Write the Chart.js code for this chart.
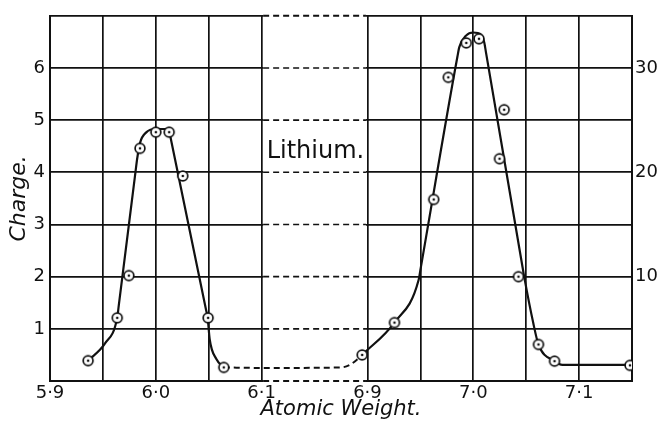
<!DOCTYPE html>
<html>
<head>
<meta charset="utf-8">
<script src="https://cdn.jsdelivr.net/npm/chart.js@4"></script>
<style>
  html, body { margin: 0; padding: 0; background: #fff; }
  #wrap { width: 662px; height: 424px; }
</style>
</head>
<body>
<div id="wrap"><canvas id="chart"></canvas></div>
<script>
"use strict";

// The axis is broken between 6.1 and 6.9; that stretch is squeezed into one 0.1 step
const BREAK_LO = 6.1;
const BREAK_HI = 6.9;
const BREAK_SHIFT = 0.7;

const xTickLabels = [5.9, 6.0, 6.1, 6.9, 7.0, 7.1];
const leftTickLabels = [1, 2, 3, 4, 5, 6];
const rightTickLabels = [10, 20, 30];
const breakLabel = 'Lithium.';

// Li6 peak, read against the left scale
const li6Weight = [5.936, 5.9635, 5.9745, 5.985, 6.0, 6.0126, 6.0255, 6.0494, 6.0642];
const li6Charge = [0.39, 1.21, 2.02, 4.46, 4.77, 4.77, 3.93, 1.21, 0.26];

// Li7 peak, read against the right scale
const li7Weight = [6.895, 6.9255, 6.9626, 6.9764, 6.9934, 7.0054, 7.0248, 7.0292, 7.0427, 7.0616, 7.0768, 7.1481];
const li7Charge = [2.5, 5.6, 17.4, 29.1, 32.4, 32.8, 21.3, 26.0, 10.0, 3.5, 1.9, 1.5];

// hand drawn curves through the observations (straight flanks, rounded tops)
const li6CurveWeight = [5.936, 5.952, 5.9635, 5.965, 5.981, 5.9823, 5.985, 5.9912, 6.0, 6.0085, 6.0132, 6.0145, 6.0475, 6.049, 6.0509, 6.0572, 6.0642];
const li6CurveCharge = [0.39, 0.72, 1.21, 1.45, 4.04, 4.25, 4.56, 4.77, 4.83, 4.83, 4.74, 4.61, 1.36, 1.21, 0.80, 0.42, 0.26];

const gapCurveWeight = [6.0642, 6.1, 6.875, 6.885, 6.895];
const gapCurveCharge = [0.26, 0.25, 0.26, 0.33, 0.50];

const li7CurveWeight = [6.895, 6.9255, 6.9484, 6.950, 6.985, 6.9868, 6.9931, 7.0, 7.0073, 7.0104, 7.012, 7.0465, 7.0481, 7.0566, 7.0616, 7.0768, 7.0843, 7.1481];
const li7CurveCharge = [2.5, 5.6, 9.7, 10.63, 31.07, 32.0, 33.1, 33.4, 33.2, 32.45, 31.5, 10.95, 10.0, 5.6, 3.5, 1.9, 1.55, 1.55];

const INK = '#111111';

// weight -> position on the squeezed axis and back
const BREAK_MID = (BREAK_LO + BREAK_HI) / 2;
const toAxis = w => (w > BREAK_MID ? w - BREAK_SHIFT : w);
const fromAxis = v => (v > BREAK_LO + 0.05 ? v + BREAK_SHIFT : v);
const pts = (ws, ys) => ws.map((w, i) => ({ x: toAxis(w), y: ys[i] }));

function ringDot() {
  const c = document.createElement('canvas');
  c.width = 14; c.height = 14;
  const g = c.getContext('2d');
  g.beginPath(); g.arc(7, 7, 4.9, 0, Math.PI * 2);
  g.fillStyle = '#fff'; g.fill();
  g.lineWidth = 1.7; g.strokeStyle = INK; g.stroke();
  g.beginPath(); g.arc(7, 7, 1.3, 0, Math.PI * 2);
  g.fillStyle = INK; g.fill();
  return c;
}
const dotStyle = ringDot();

const tickFont = { family: "'DejaVu Sans', sans-serif", size: 18 };

// blank the gap, redraw horizontal rules dashed, and write the label
const axisBreak = {
  id: 'axisBreak',
  beforeDatasetsDraw(chart) {
    const { ctx, chartArea: a, scales: { x, y } } = chart;
    const x0 = x.getPixelForValue(BREAK_LO) + 1.5;
    const x1 = x.getPixelForValue(toAxis(BREAK_HI)) - 1.5;
    ctx.save();
    ctx.fillStyle = '#fff';
    ctx.fillRect(x0, a.top - 3, x1 - x0, a.bottom - a.top + 6);
    ctx.strokeStyle = INK;
    ctx.setLineDash([6, 4]);
    y.ticks.forEach(t => {
      const py = y.getPixelForValue(t.value);
      ctx.lineWidth = (t.value === 0 || t.value === 7) ? 2 : 1.6;
      ctx.beginPath();
      ctx.moveTo(x0, py);
      ctx.lineTo(x1, py);
      ctx.stroke();
    });
    ctx.setLineDash([]);
    ctx.font = "24px 'DejaVu Sans', sans-serif";
    ctx.fillStyle = INK;
    ctx.textBaseline = 'alphabetic';
    ctx.fillText(breakLabel, x0 + 3.5, y.getPixelForValue(4.28));
    ctx.restore();
  },
};

new Chart(document.getElementById('chart'), {
  type: 'scatter',
  data: {
    datasets: [
      {
        data: pts(li6Weight, li6Charge),
        yAxisID: 'y',
        pointStyle: dotStyle,
        pointRadius: 5,
        showLine: false,
      },
      {
        data: pts(li7Weight, li7Charge),
        yAxisID: 'y2',
        pointStyle: dotStyle,
        pointRadius: 5,
        showLine: false,
      },
      {
        data: pts(li6CurveWeight, li6CurveCharge),
        yAxisID: 'y',
        showLine: true,
        borderColor: INK,
        borderWidth: 2.2,
        pointRadius: 0,
        cubicInterpolationMode: 'monotone',
      },
      {
        data: pts(gapCurveWeight, gapCurveCharge),
        yAxisID: 'y',
        showLine: true,
        borderColor: INK,
        borderWidth: 2,
        borderDash: [6, 4],
        pointRadius: 0,
        cubicInterpolationMode: 'monotone',
      },
      {
        data: pts(li7CurveWeight, li7CurveCharge),
        yAxisID: 'y2',
        showLine: true,
        borderColor: INK,
        borderWidth: 2.2,
        pointRadius: 0,
        cubicInterpolationMode: 'monotone',
      },
    ],
  },
  options: {
    responsive: true,
    maintainAspectRatio: false,
    animation: false,
    layout: { padding: { top: 10, left: 0, right: 0, bottom: 0 } },
    plugins: { legend: { display: false }, tooltip: { enabled: false } },
    scales: {
      x: {
        type: 'linear',
        min: 5.9,
        max: toAxis(7.15),
        afterFit: s => { s.height = 43; },
        ticks: {
          stepSize: 0.05,
          autoSkip: false,
          maxRotation: 0,
          padding: 2,
          color: INK,
          font: tickFont,
          callback: v => {
            const w = Math.round(fromAxis(v) * 100) / 100;
            return xTickLabels.some(t => Math.abs(t - w) < 1e-6) ? w.toFixed(1).replace('.', '·') : '';
          },
        },
        grid: {
          drawTicks: false,
          lineWidth: 1.7,
          color: c => (c.tick && c.tick.value > BREAK_LO + 0.01 && c.tick.value < toAxis(BREAK_HI) - 0.01 ? 'rgba(0,0,0,0)' : INK),
        },
        border: { color: INK, width: 2 },
        title: {
          display: true,
          text: 'Atomic Weight.',
          color: INK,
          font: { family: "'DejaVu Sans', sans-serif", size: 21, style: 'italic' },
          padding: { top: 0, bottom: 2 },
        },
      },
      y: {
        position: 'left',
        min: 0,
        max: 7,
        afterFit: s => { s.width = 50; },
        ticks: {
          stepSize: 1,
          padding: 5,
          color: INK,
          font: tickFont,
          callback: v => (leftTickLabels.includes(v) ? String(v) : ''),
        },
        grid: { drawTicks: false, lineWidth: 1.7, color: INK },
        border: { color: INK, width: 2 },
        title: {
          display: true,
          text: 'Charge.',
          color: INK,
          font: { family: "'DejaVu Sans', sans-serif", size: 22, style: 'italic' },
          padding: { top: 6, bottom: 0 },
        },
      },
      y2: {
        position: 'right',
        min: 0,
        max: 35,
        afterFit: s => { s.width = 30; },
        ticks: {
          stepSize: 5,
          padding: 3,
          color: INK,
          font: tickFont,
          callback: v => (rightTickLabels.includes(v) ? String(v) : ''),
        },
        grid: { drawOnChartArea: false, drawTicks: false },
        border: { color: INK, width: 2 },
      },
    },
  },
  plugins: [axisBreak],
});
</script>
</body>
</html>
